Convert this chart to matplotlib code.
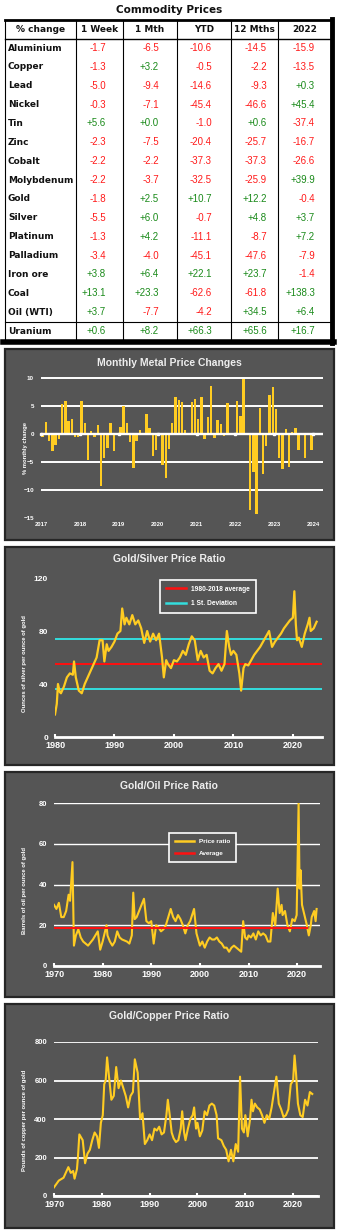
# Commodity prices table + metal price ratio charts

import numpy as np
import matplotlib
matplotlib.use('Agg')
import matplotlib.pyplot as plt
from matplotlib.patches import Rectangle
from matplotlib.lines import Line2D

# ====> table data
names = ['Aluminium', 'Copper', 'Lead', 'Nickel', 'Tin', 'Zinc', 'Cobalt', 'Molybdenum',
         'Gold', 'Silver', 'Platinum', 'Palladium', 'Iron ore', 'Coal', 'Oil (WTI)', 'Uranium']
headers = ['% change', '1 Week', '1 Mth', 'YTD', '12 Mths', '2022']
week = [-1.7, -1.3, -5.0, -0.3, 5.6, -2.3, -2.2, -2.2, -1.8, -5.5, -1.3, -3.4, 3.8, 13.1, 3.7, 0.6]
month = [-6.5, 3.2, -9.4, -7.1, 0.0, -7.5, -2.2, -3.7, 2.5, 6.0, 4.2, -4.0, 6.4, 23.3, -7.7, 8.2]
ytd = [-10.6, -0.5, -14.6, -45.4, -1.0, -20.4, -37.3, -32.5, 10.7, -0.7, -11.1, -45.1, 22.1, -62.6, -4.2, 66.3]
months12 = [-14.5, -2.2, -9.3, -46.6, 0.6, -25.7, -37.3, -25.9, 12.2, 4.8, -8.7, -47.6, 23.7, -61.8, 34.5, 65.6]
year2022 = [-15.9, -13.5, 0.3, 45.4, -37.4, -16.7, -26.6, 39.9, -0.4, 3.7, 7.2, -7.9, -1.4, 138.3, 6.4, 16.7]

# ====> monthly metal price changes, Jan 2017 - Dec 2023
monthly_years = [2017, 2018, 2019, 2020, 2021, 2022, 2023, 2024]
monthly_change = [
    -0.5, 2.1, -1.2, -3.0, -1.9, -0.8, 5.3, 6.0, 2.3, 2.7, -0.6, -0.5,
    6.0, 1.9, -4.7, 0.5, -0.6, 1.6, -9.3, -4.2, -2.5, 1.9, -3.0, 0.1,
    1.2, 5.0, 1.9, -1.5, -6.0, -1.2, 0.7, 0.1, 3.6, 1.0, -4.0, -2.9,
    0.2, -5.6, -7.8, -2.6, 2.0, 6.6, 6.1, 5.7, 0.7, -0.1, 5.8, 6.2,
    2.7, 6.6, -0.8, 3.0, 8.6, -0.7, 2.5, 1.8, -0.4, 5.6, 0.1, 0.2,
    5.9, 3.3, 9.9, 0.1, -13.5, -6.8, -14.2, 4.7, -7.2, -2.2, 7.0, 8.5,
    4.5, -4.3, -6.2, 0.9, -5.8, 0.3, 1.0, -2.8, 0.1, -4.3, 0.1, -2.8]

# ====> gold/silver ratio
gs_year = [1980.0, 1980.3, 1980.5, 1980.8, 1981.0, 1981.5, 1982.0, 1982.5, 1983.0, 1983.2, 1983.5,
           1984.0, 1984.5, 1985.0, 1985.5, 1986.0, 1986.5, 1987.0, 1987.5, 1988.0, 1988.3, 1988.7,
           1989.0, 1989.5, 1990.0, 1990.5, 1991.0, 1991.3, 1991.7, 1992.0, 1992.5, 1993.0, 1993.5,
           1994.0, 1994.5, 1995.0, 1995.5, 1996.0, 1996.5, 1997.0, 1997.5, 1998.0, 1998.3, 1998.7,
           1999.0, 1999.5, 2000.0, 2000.5, 2001.0, 2001.5, 2002.0, 2002.5, 2003.0, 2003.5, 2004.0,
           2004.5, 2005.0, 2005.5, 2006.0, 2006.5, 2007.0, 2007.5, 2008.0, 2008.5, 2008.9, 2009.3,
           2009.6, 2010.0, 2010.5, 2011.0, 2011.3, 2011.7, 2012.0, 2012.5, 2013.0, 2013.5, 2014.0,
           2014.5, 2015.0, 2015.5, 2016.0, 2016.5, 2017.0, 2017.5, 2018.0, 2018.5, 2019.0, 2019.5,
           2020.0, 2020.25, 2020.5, 2020.7, 2021.0, 2021.5, 2022.0, 2022.5, 2022.8, 2023.0, 2023.5,
           2024.0]
gs_ratio = [17, 25, 40, 34, 33, 38, 45, 48, 47, 57, 45,
            35, 33, 40, 45, 50, 55, 60, 73, 73, 57, 70,
            65, 68, 72, 78, 80, 97, 85, 90, 85, 92, 85,
            88, 82, 71, 80, 72, 78, 73, 78, 60, 45, 58,
            55, 52, 58, 57, 60, 65, 62, 70, 76, 73, 58,
            65, 60, 62, 50, 48, 52, 55, 50, 55, 80, 68,
            62, 65, 62, 48, 35, 52, 55, 54, 58, 62, 65,
            68, 72, 76, 80, 68, 72, 75, 78, 82, 85, 88,
            90, 110, 85, 73, 75, 68, 78, 85, 90, 80, 82,
            87]
gs_average = 55
gs_stdev = 19

# ====> gold/oil ratio
go_year = [1970.0, 1970.5, 1971.0, 1971.5, 1972.0, 1972.5, 1973.0, 1973.3, 1973.8, 1974.1, 1974.5,
           1975.0, 1975.5, 1976.0, 1977.0, 1978.0, 1979.0, 1979.5, 1980.0, 1980.8, 1981.0, 1981.5,
           1982.0, 1982.5, 1983.0, 1983.5, 1984.0, 1985.0, 1985.5, 1986.0, 1986.3, 1986.6, 1987.0,
           1987.5, 1988.0, 1988.5, 1989.0, 1989.5, 1990.0, 1990.5, 1991.0, 1991.5, 1992.0, 1992.5,
           1993.0, 1993.5, 1994.0, 1994.5, 1995.0, 1995.5, 1996.0, 1996.5, 1997.0, 1997.5, 1998.0,
           1998.8, 1999.3, 2000.0, 2000.5, 2001.0, 2001.5, 2002.0, 2002.5, 2003.0, 2003.5, 2004.0,
           2004.5, 2005.0, 2005.5, 2006.0, 2006.5, 2007.0, 2007.5, 2008.0, 2008.5, 2008.9, 2009.3,
           2009.7, 2010.0, 2010.5, 2011.0, 2011.5, 2012.0, 2012.5, 2013.0, 2013.5, 2014.0, 2014.5,
           2015.0, 2015.5, 2016.0, 2016.4, 2016.8, 2017.0, 2017.5, 2018.0, 2018.5, 2019.0, 2019.5,
           2019.9, 2020.3, 2020.5, 2020.7, 2021.0, 2021.5, 2022.0, 2022.4, 2022.8, 2023.0, 2023.5,
           2023.8, 2024.0]
go_ratio = [30, 28, 31, 24, 24, 27, 35, 32, 51, 10, 15,
            18, 14, 12, 10, 13, 17, 8, 12, 20, 15, 12,
            10, 12, 17, 14, 13, 12, 11, 15, 36, 23, 24,
            27, 30, 33, 22, 21, 22, 11, 20, 19, 17, 18,
            20, 24, 28, 24, 22, 25, 23, 20, 16, 20, 22,
            28, 16, 10, 12, 9, 12, 14, 13, 13, 14, 12,
            11, 9, 9, 7, 9, 10, 9, 8, 7, 22, 14,
            13, 15, 14, 16, 13, 17, 15, 16, 15, 12, 12,
            26, 20, 38, 26, 30, 25, 27, 20, 17, 23, 22,
            25, 80, 38, 47, 30, 25, 20, 15, 20, 24, 27,
            22, 28]
go_average = 18.5
go_average_span = [1970, 2022.1]

# ====> gold/copper ratio
gc_year = [1970.0, 1971.0, 1972.0, 1973.0, 1973.5, 1974.0, 1974.3, 1974.8, 1975.0, 1975.3, 1976.0,
           1976.5, 1977.0, 1977.5, 1978.0, 1978.5, 1979.0, 1979.4, 1979.8, 1980.2, 1980.5, 1980.8,
           1981.1, 1981.5, 1982.0, 1982.5, 1983.0, 1983.5, 1984.0, 1984.5, 1985.0, 1985.5, 1986.0,
           1986.5, 1986.9, 1987.5, 1988.0, 1988.5, 1989.0, 1989.5, 1990.0, 1990.5, 1991.0, 1991.5,
           1992.0, 1992.5, 1993.0, 1993.5, 1993.8, 1994.2, 1994.6, 1995.0, 1995.5, 1996.0, 1996.5,
           1996.8, 1997.2, 1997.5, 1998.0, 1998.5, 1999.0, 1999.3, 1999.7, 2000.0, 2000.5, 2001.0,
           2001.5, 2002.0, 2002.5, 2003.0, 2003.5, 2004.0, 2004.3, 2005.0, 2005.5, 2006.0, 2006.5,
           2007.0, 2007.5, 2008.0, 2008.5, 2008.9, 2009.3, 2009.7, 2010.0, 2010.5, 2011.0, 2011.3,
           2011.6, 2012.0, 2012.5, 2013.0, 2013.5, 2014.0, 2014.5, 2015.0, 2015.5, 2016.0, 2016.5,
           2017.0, 2017.5, 2018.0, 2018.5, 2019.0, 2019.5, 2020.0, 2020.3, 2020.6, 2021.0, 2021.5,
           2022.0, 2022.5, 2023.0, 2023.5, 2024.0]
gc_ratio = [45, 80, 95, 150, 120, 130, 90, 140, 200, 320, 290,
            170, 220, 240, 290, 330, 310, 250, 380, 420, 580, 600,
            720, 620, 500, 520, 670, 560, 600, 560, 520, 460, 520,
            540, 710, 640, 400, 430, 270, 290, 320, 290, 350, 340,
            360, 320, 330, 420, 500, 420, 330, 300, 280, 290, 350,
            440, 330, 290, 350, 400, 420, 460, 350, 380, 310, 340,
            440, 420, 470, 480, 470, 420, 300, 290, 260, 240, 180,
            240, 180, 270, 230, 620, 350, 330, 420, 310, 400, 500,
            440, 480, 460, 450, 420, 380, 420, 400, 460, 540, 620,
            480, 450, 410, 420, 450, 580, 600, 730, 640, 480, 420,
            410, 500, 470, 540, 530]

W, H = 338, 1230
GREY = '#555555'
GOLD = '#FFCC22'
TEXT = 'Liberation Sans'


def frac(x0, y0, x1, y1):
    # pixel box (top-left origin) -> figure fraction
    return [x0 / W, 1 - y1 / H, (x1 - x0) / W, (y1 - y0) / H]


fig = plt.figure(figsize=(W / 100, H / 100), dpi=100)
fig.patch.set_facecolor('white')

# ====> table
tab = fig.add_axes(frac(0, 0, W, 346))
tab.set_xlim(0, W)
tab.set_ylim(346, 0)
tab.axis('off')

tab.text(169, 10, 'Commodity Prices', ha='center', va='center', fontsize=7.5,
         fontweight='bold', family='DejaVu Sans', color='#111111')

col_edges = [5, 76, 123, 177, 231, 278, 331]
value_right = [106, 159, 212, 267, 315]
row_top = 19.7
row_h = 18.87
n_rows = len(names) + 1
bottom = row_top + n_rows * row_h

tab.plot([5, 331], [row_top, row_top], color='black', lw=2)
tab.plot([5, 331], [row_top + row_h, row_top + row_h], color='black', lw=1)
tab.plot([5, 331], [bottom - row_h, bottom - row_h], color='black', lw=0.8)
tab.plot([3, 334], [bottom + 1.5, bottom + 1.5], color='black', lw=4)
for x in col_edges[:-1]:
    tab.plot([x, x], [row_top, bottom], color='black', lw=0.8)
tab.plot([332, 332], [row_top - 1, bottom + 3], color='black', lw=3.5)

for j, h in enumerate(headers):
    cx = (col_edges[j] + col_edges[j + 1]) / 2
    tab.text(cx, row_top + row_h / 2, h, ha='center', va='center', fontsize=6.5,
             fontweight='bold', family='DejaVu Sans', color='#111111')

columns = [week, month, ytd, months12, year2022]
for i, name in enumerate(names):
    cy = row_top + row_h * (i + 1.5)
    tab.text(8, cy, name, ha='left', va='center', fontsize=6.5, fontweight='bold',
             family='DejaVu Sans', color='#111111')
    for j, col in enumerate(columns):
        v = col[i]
        tab.text(value_right[j], cy, f'{v:+.1f}', ha='right', va='center', fontsize=7,
                 family=TEXT, color='#1a8a1a' if v >= 0 else '#ff1a1a')


def panel(y0, y1):
    fig.add_artist(Rectangle((5 / W, 1 - y1 / H), 329 / W, (y1 - y0) / H, transform=fig.transFigure,
                             facecolor=GREY, edgecolor='#262626', lw=1.6, zorder=-5))


def side_label(x, y, text):
    fig.text(x / W, 1 - y / H, text, rotation=90, ha='center', va='center', fontsize=4.2,
             fontweight='bold', family=TEXT, color='white')


def title(y, text):
    fig.text(169 / W, 1 - y / H, text, ha='center', va='center', fontsize=7.5,
             fontweight='bold', family=TEXT, color='#eeeeee')


def style_ticks(ax):
    for lab in ax.get_xticklabels() + ax.get_yticklabels():
        lab.set_fontweight('bold')
        lab.set_family(TEXT)


def style_legend(leg):
    leg.get_frame().set_linewidth(1.2)
    for t in leg.get_texts():
        t.set_color('white')
        t.set_fontweight('bold')
        t.set_family(TEXT)


# ====> monthly metal price changes
panel(349, 540)
title(363, 'Monthly Metal Price Changes')
ax1 = fig.add_axes(frac(41, 377, 323, 518))
ax1.set_facecolor('none')
idx = np.arange(len(monthly_change))
ax1.bar(idx + 0.5, monthly_change, width=0.75, color=GOLD, zorder=3)
ax1.set_xlim(0, 87)
ax1.set_ylim(-15, 10.2)
for s in ax1.spines.values():
    s.set_visible(False)
for g in [10, 5, 0, -5, -10]:
    ax1.axhline(g, color='white', lw=1.4 if g != 0 else 1.7, zorder=2 if g != 0 else 4)
year_pos = np.arange(len(monthly_years)) * 12
ax1.plot(year_pos, np.zeros(len(year_pos)), 's', color='white', ms=2, zorder=5, clip_on=False)
ax1.set_yticks([10, 5, 0, -5, -10, -15])
ax1.set_xticks(year_pos)
ax1.set_xticklabels([str(y) for y in monthly_years])
ax1.tick_params(axis='x', length=0, colors='white', labelsize=4.2, pad=3)
ax1.tick_params(axis='y', length=0, colors='white', labelsize=4.5, pad=5)
style_ticks(ax1)
side_label(25, 448, '% monthly change')

# ====> gold/silver ratio
panel(547, 765)
title(559, 'Gold/Silver Price Ratio')
ax2 = fig.add_axes(frac(55, 578, 322, 737))
ax2.set_facecolor('none')
ax2.plot(gs_year, gs_ratio, color=GOLD, lw=1.6, zorder=3)
ax2.axhline(gs_average, color='#ff1010', lw=1.4, zorder=2)
ax2.axhline(gs_average + gs_stdev, color='#33dddd', lw=1.4, zorder=2)
ax2.axhline(gs_average - gs_stdev, color='#33dddd', lw=1.4, zorder=2)
ax2.set_xlim(1980, 2024.9)
ax2.set_ylim(0, 120)
ax2.set_xticks([1980, 1990, 2000, 2010, 2020])
ax2.set_yticks([0, 40, 80, 120])
for k in ['top', 'right', 'left']:
    ax2.spines[k].set_visible(False)
ax2.spines['bottom'].set_color('white')
ax2.spines['bottom'].set_linewidth(2)
ax2.tick_params(axis='x', direction='in', length=2, width=1.5, colors='white', labelsize=6.5, pad=3)
ax2.tick_params(axis='y', length=0, colors='white', labelsize=6, pad=5)
style_ticks(ax2)
leg = ax2.legend([Line2D([], [], color='#ff1010', lw=1.8), Line2D([], [], color='#33dddd', lw=1.8)],
                 ['1980-2018 average', '1 St. Deviation'], loc='upper left',
                 bbox_to_anchor=(0.38, 1.01), fontsize=4.8, facecolor=GREY, edgecolor='white',
                 fancybox=False, framealpha=1, handlelength=3.0, borderpad=0.9, labelspacing=1.1)
style_legend(leg)
side_label(25, 664, 'Ounces of silver per ounce of gold')

# ====> gold/oil ratio
panel(772, 997)
title(786, 'Gold/Oil Price Ratio')
ax3 = fig.add_axes(frac(54, 803, 320, 966))
ax3.set_facecolor('none')
ax3.plot(go_year, go_ratio, color=GOLD, lw=1.5, zorder=3)
ax3.plot(go_average_span, [go_average, go_average], color='#ff1010', lw=1.4, zorder=4)
ax3.set_xlim(1970, 2024.7)
ax3.set_ylim(0, 80)
ax3.set_xticks([1970, 1980, 1990, 2000, 2010, 2020])
ax3.set_yticks([0, 20, 40, 60, 80])
ax3.grid(axis='y', color='white', lw=1)
for k in ['top', 'right', 'left']:
    ax3.spines[k].set_visible(False)
ax3.spines['bottom'].set_color('white')
ax3.spines['bottom'].set_linewidth(2)
ax3.tick_params(axis='x', direction='in', length=2, width=1.5, colors='white', labelsize=6.5, pad=3)
ax3.tick_params(axis='y', length=0, colors='white', labelsize=5.5, pad=5)
style_ticks(ax3)
leg = ax3.legend([Line2D([], [], color=GOLD, lw=1.8), Line2D([], [], color='#ff1010', lw=1.8)],
                 ['Price ratio', 'Average'], loc='upper left',
                 bbox_to_anchor=(0.42, 0.835), fontsize=4.6, facecolor=GREY, edgecolor='white',
                 fancybox=False, framealpha=1, handlelength=3.0, borderpad=0.9, labelspacing=1.0)
style_legend(leg)
side_label(25, 890, 'Barrels of oil per ounce of gold')

# ====> gold/copper ratio
panel(1004, 1228)
title(1016, 'Gold/Copper Price Ratio')
ax4 = fig.add_axes(frac(54, 1042, 318, 1196))
ax4.set_facecolor('none')
ax4.plot(gc_year, gc_ratio, color=GOLD, lw=1.5, zorder=3)
ax4.set_xlim(1970, 2025.2)
ax4.set_ylim(0, 800)
ax4.set_xticks([1970, 1980, 1990, 2000, 2010, 2020])
ax4.set_yticks([0, 200, 400, 600, 800])
ax4.grid(axis='y', color='white', lw=1.3)
for k in ['top', 'right', 'left']:
    ax4.spines[k].set_visible(False)
ax4.spines['bottom'].set_color('white')
ax4.spines['bottom'].set_linewidth(2)
ax4.tick_params(axis='x', direction='in', length=2, width=1.5, colors='white', labelsize=6.5, pad=3)
ax4.tick_params(axis='y', length=0, colors='white', labelsize=5.5, pad=5)
style_ticks(ax4)
side_label(25, 1120, 'Pounds of copper per ounce of gold')

fig.savefig('out.png', dpi=100)
